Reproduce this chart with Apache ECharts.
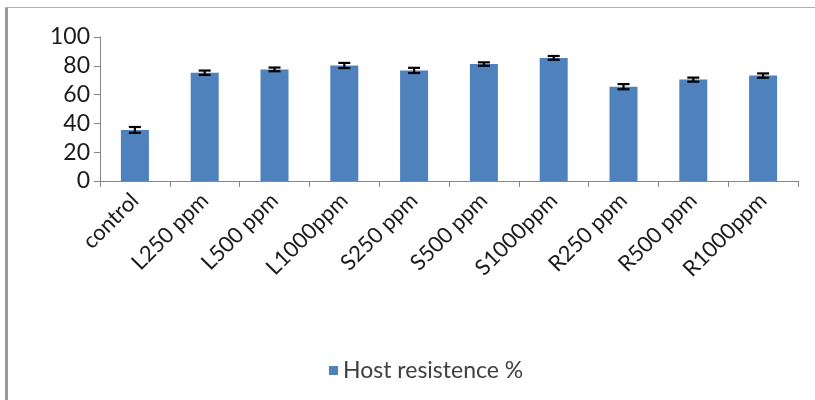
<!DOCTYPE html>
<html>
<head>
<meta charset="utf-8">
<script src="https://cdn.jsdelivr.net/npm/echarts@6/dist/echarts.min.js"></script>
<style>
  html, body { margin: 0; padding: 0; background: #fff; }
  #chart { width: 815px; height: 400px; }
</style>
</head>
<body>
<div id="chart"></div>
<script>
// data
const categories = ['control', 'L250 ppm', 'L500 ppm', 'L1000ppm', 'S250 ppm', 'S500 ppm', 'S1000ppm', 'R250 ppm', 'R500 ppm', 'R1000ppm'];
const resistance = [35.5, 75.2, 77.5, 80.2, 76.8, 81.2, 85.5, 65.5, 70.4, 73.2];
const errors = [2.0, 1.5, 1.3, 1.8, 1.8, 1.2, 1.3, 1.8, 1.4, 1.5];
const yTicks = [0, 20, 40, 60, 80, 100];

const chart = echarts.init(document.getElementById('chart'));
const font = 'Lato, "Open Sans", sans-serif';

const errData = categories.map((c, i) => [i, resistance[i] - errors[i], resistance[i] + errors[i]]);

chart.setOption({
    animation: false,
    textStyle: { fontFamily: font },
    graphic: [
        { type: 'rect', shape: { x: 5, y: 7, width: 3, height: 400 }, style: { fill: '#9a9a9a' } },
        { type: 'rect', shape: { x: 5, y: 7, width: 815, height: 1 }, style: { fill: '#b0b0b0' } }
    ],
    legend: {
        left: 324,
        top: 354,
        itemWidth: 9,
        itemHeight: 9,
        itemGap: 4,
        icon: 'rect',
        textStyle: { fontSize: 23, color: '#404040', fontFamily: font },
        data: ['Host resistence %']
    },
    grid: { left: 100, right: 17, top: 37, bottom: 219 },
    xAxis: {
        type: 'category',
        data: categories,
        axisLine: { lineStyle: { color: '#868686', width: 1 } },
        axisTick: { show: true, length: 6, lineStyle: { color: '#868686' } },
        axisLabel: { rotate: 45, fontSize: 22, color: '#1a1a1a', margin: 16, interval: 0 }
    },
    yAxis: {
        type: 'value',
        min: yTicks[0],
        max: yTicks[yTicks.length - 1],
        interval: 20,
        splitLine: { show: false },
        axisLine: { show: true, lineStyle: { color: '#868686' } },
        axisTick: { show: true, length: 6, lineStyle: { color: '#868686' } },
        axisLabel: { fontSize: 23, color: '#1a1a1a', margin: 10 }
    },
    series: [
        {
            name: 'Host resistence %',
            type: 'bar',
            data: resistance,
            barWidth: 28,
            itemStyle: { color: '#4f81bd' }
        },
        {
            type: 'custom',
            data: errData,
            z: 10,
            renderItem: function (params, api) {
                const x = api.value(0);
                const lo = api.coord([x, api.value(1)]);
                const hi = api.coord([x, api.value(2)]);
                const hw = 6;
                const st = { stroke: '#000', lineWidth: 2.2 };
                return {
                    type: 'group',
                    children: [
                        { type: 'line', shape: { x1: lo[0], y1: lo[1], x2: hi[0], y2: hi[1] }, style: st },
                        { type: 'line', shape: { x1: lo[0] - hw, y1: lo[1], x2: lo[0] + hw, y2: lo[1] }, style: st },
                        { type: 'line', shape: { x1: hi[0] - hw, y1: hi[1], x2: hi[0] + hw, y2: hi[1] }, style: st }
                    ]
                };
            }
        }
    ]
});
</script>
</body>
</html>
